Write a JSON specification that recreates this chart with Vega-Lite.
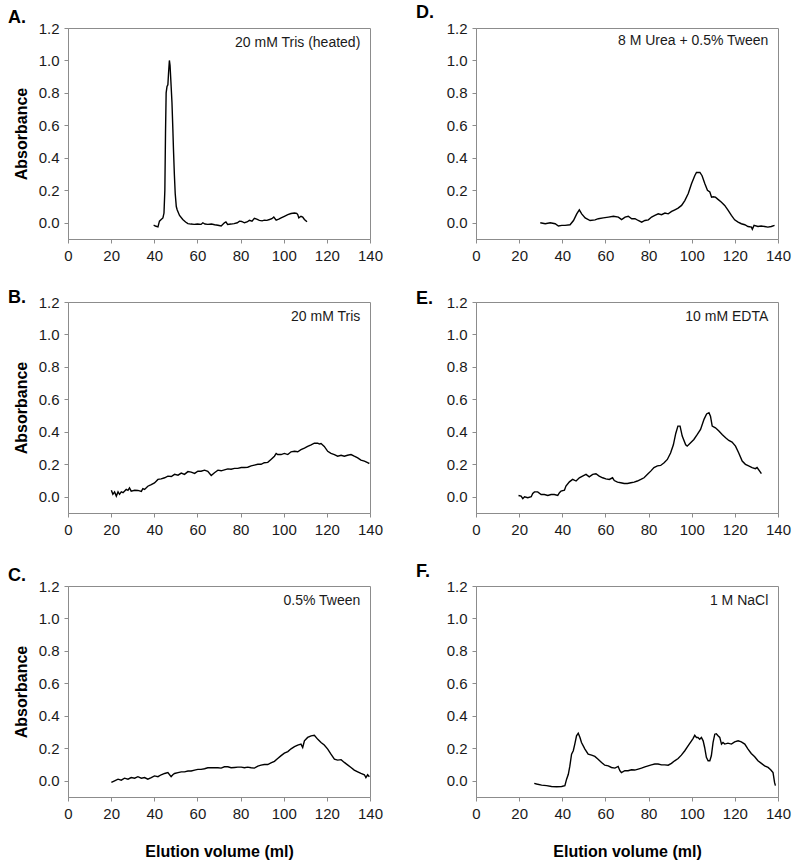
{
  "$schema": "https://vega.github.io/schema/vega-lite/v6.json",
  "background": "white",
  "padding": {"left": 7, "top": 3, "right": 5, "bottom": 0},
  "config": {
    "font": "Liberation Sans",
    "view": {"stroke": "#8c8c8c", "strokeWidth": 1},
    "axis": {
      "grid": false, "domainColor": "#8c8c8c", "tickColor": "#8c8c8c", "labelColor": "#1a1a1a",
      "labelFont": "Liberation Sans", "labelFontSize": 15, "titleFont": "Liberation Sans",
      "titleFontSize": 16, "titleFontWeight": "bold", "titleColor": "#000", "tickSize": 4,
      "labelPadding": 5, "labelFlush": false, "labelOverlap": false
    },
    "axisY": {"titlePadding": 9},
    "axisX": {"titlePadding": 22},
    "title": {"anchor": "start", "frame": "group", "dx": -60, "fontSize": 18, "fontWeight": "bold", "font": "Liberation Sans", "color": "#000"},
    "line": {"color": "#000", "strokeWidth": 1.4},
    "text": {"font": "Liberation Sans", "fontSize": 14, "color": "#1a1a1a"}
  },
  "datasets": {
    "A": [
      {"v":39.7,"a":-0.015},{"v":40.5,"a":-0.02},{"v":41.7,"a":-0.025},{"v":42.4,"a":0.01},{"v":43.2,"a":0.02},{"v":44.0,"a":0.03},{"v":44.5,"a":0.06},{"v":44.9,"a":0.2},{"v":45.2,"a":0.55},{"v":45.5,"a":0.8},{"v":45.9,"a":0.84},{"v":46.3,"a":0.85},{"v":46.6,"a":0.92},{"v":47.0,"a":1.0},{"v":47.3,"a":0.97},{"v":47.7,"a":0.87},{"v":48.2,"a":0.74},{"v":48.6,"a":0.58},{"v":48.9,"a":0.45},{"v":49.3,"a":0.3},{"v":49.7,"a":0.18},{"v":50.2,"a":0.1},{"v":50.6,"a":0.08},{"v":51.7,"a":0.045},{"v":53.2,"a":0.02},{"v":54.5,"a":0.005},{"v":55.6,"a":-0.005},{"v":57,"a":-0.008},{"v":58.5,"a":-0.01},{"v":60,"a":-0.008},{"v":61.7,"a":-0.01},{"v":62.5,"a":0.0},{"v":63.5,"a":-0.008},{"v":64.8,"a":-0.01},{"v":66.5,"a":-0.008},{"v":68,"a":-0.012},{"v":69.5,"a":-0.015},{"v":71,"a":-0.02},{"v":72.5,"a":0.0},{"v":73.2,"a":0.005},{"v":74,"a":-0.01},{"v":75.5,"a":-0.008},{"v":77,"a":-0.005},{"v":78.5,"a":0.0},{"v":79.5,"a":0.01},{"v":80.5,"a":0.008},{"v":81.8,"a":0.0},{"v":83,"a":0.005},{"v":84.1,"a":0.015},{"v":85.3,"a":0.01},{"v":86.4,"a":0.027},{"v":87.5,"a":0.022},{"v":88.7,"a":0.015},{"v":90,"a":0.012},{"v":91,"a":0.016},{"v":92.2,"a":0.015},{"v":93.4,"a":0.02},{"v":94.5,"a":0.025},{"v":95.4,"a":0.035},{"v":96.5,"a":0.016},{"v":97.7,"a":0.022},{"v":98.8,"a":0.03},{"v":100.3,"a":0.04},{"v":101.9,"a":0.05},{"v":103.4,"a":0.057},{"v":105,"a":0.06},{"v":106,"a":0.058},{"v":106.5,"a":0.05},{"v":107,"a":0.03},{"v":108,"a":0.04},{"v":108.8,"a":0.035},{"v":109.6,"a":0.02},{"v":110.8,"a":0.006}
    ],
    "B": [
      {"v":20.1,"a":0.04},{"v":20.8,"a":0.015},{"v":21.6,"a":0.03},{"v":22.4,"a":0.004},{"v":23.2,"a":0.03},{"v":23.9,"a":0.015},{"v":24.7,"a":0.03},{"v":25.5,"a":0.025},{"v":27,"a":0.045},{"v":27.8,"a":0.04},{"v":28.5,"a":0.055},{"v":29.3,"a":0.035},{"v":30.9,"a":0.04},{"v":32.4,"a":0.039},{"v":34,"a":0.033},{"v":34.7,"a":0.05},{"v":35.5,"a":0.045},{"v":37,"a":0.065},{"v":38.6,"a":0.075},{"v":40.1,"a":0.085},{"v":41.7,"a":0.107},{"v":43.2,"a":0.11},{"v":44.8,"a":0.117},{"v":46.3,"a":0.127},{"v":47.9,"a":0.125},{"v":49.4,"a":0.138},{"v":51,"a":0.133},{"v":52.5,"a":0.146},{"v":54,"a":0.138},{"v":55.6,"a":0.155},{"v":57.1,"a":0.152},{"v":58.7,"a":0.144},{"v":60.2,"a":0.157},{"v":61.7,"a":0.157},{"v":63.3,"a":0.164},{"v":64.8,"a":0.157},{"v":66.4,"a":0.131},{"v":67.9,"a":0.148},{"v":69.5,"a":0.164},{"v":71,"a":0.16},{"v":72.5,"a":0.166},{"v":74.1,"a":0.172},{"v":75.6,"a":0.17},{"v":77.2,"a":0.175},{"v":78.7,"a":0.175},{"v":80.3,"a":0.18},{"v":81.8,"a":0.18},{"v":83.3,"a":0.182},{"v":84.9,"a":0.19},{"v":86.4,"a":0.195},{"v":88,"a":0.2},{"v":89.5,"a":0.2},{"v":91,"a":0.21},{"v":92.6,"a":0.212},{"v":94.1,"a":0.23},{"v":95.7,"a":0.25},{"v":96.5,"a":0.267},{"v":97.2,"a":0.26},{"v":98.8,"a":0.26},{"v":100.3,"a":0.267},{"v":101.9,"a":0.26},{"v":103.4,"a":0.277},{"v":105,"a":0.28},{"v":106.5,"a":0.277},{"v":108,"a":0.29},{"v":109.6,"a":0.3},{"v":111.1,"a":0.31},{"v":112.7,"a":0.32},{"v":114.2,"a":0.33},{"v":115.8,"a":0.33},{"v":116.5,"a":0.325},{"v":117.3,"a":0.328},{"v":118.8,"a":0.31},{"v":120.4,"a":0.28},{"v":121.9,"a":0.267},{"v":123.5,"a":0.26},{"v":125,"a":0.25},{"v":126.6,"a":0.256},{"v":128.1,"a":0.25},{"v":129.6,"a":0.256},{"v":131.2,"a":0.26},{"v":132.7,"a":0.25},{"v":134.3,"a":0.24},{"v":135.8,"a":0.226},{"v":137.4,"a":0.22},{"v":138.9,"a":0.21},{"v":139.7,"a":0.205}
    ],
    "C": [
      {"v":20.1,"a":-0.01},{"v":21.6,"a":0.0},{"v":23.2,"a":0.01},{"v":24.7,"a":0.004},{"v":26.2,"a":0.016},{"v":27.8,"a":0.01},{"v":29.3,"a":0.02},{"v":30.9,"a":0.016},{"v":32.4,"a":0.025},{"v":34,"a":0.016},{"v":35.5,"a":0.02},{"v":37,"a":0.01},{"v":38.6,"a":0.02},{"v":40.1,"a":0.03},{"v":41.7,"a":0.025},{"v":43.2,"a":0.037},{"v":44.8,"a":0.045},{"v":46.3,"a":0.05},{"v":47.8,"a":0.025},{"v":48.6,"a":0.037},{"v":49.4,"a":0.045},{"v":51,"a":0.05},{"v":52.5,"a":0.055},{"v":54,"a":0.055},{"v":55.6,"a":0.06},{"v":57.1,"a":0.06},{"v":58.7,"a":0.066},{"v":60.2,"a":0.07},{"v":61.7,"a":0.07},{"v":63.3,"a":0.074},{"v":64.8,"a":0.08},{"v":66.4,"a":0.08},{"v":67.9,"a":0.08},{"v":69.5,"a":0.08},{"v":71,"a":0.078},{"v":72.5,"a":0.086},{"v":74.1,"a":0.086},{"v":75.6,"a":0.08},{"v":77.2,"a":0.082},{"v":78.7,"a":0.084},{"v":80.3,"a":0.084},{"v":81.8,"a":0.08},{"v":83.3,"a":0.084},{"v":84.9,"a":0.08},{"v":86.4,"a":0.078},{"v":88,"a":0.09},{"v":89.5,"a":0.096},{"v":91,"a":0.1},{"v":92.6,"a":0.1},{"v":94.1,"a":0.11},{"v":95.7,"a":0.12},{"v":97.2,"a":0.137},{"v":98.8,"a":0.155},{"v":100.3,"a":0.17},{"v":101.9,"a":0.18},{"v":103.4,"a":0.197},{"v":105,"a":0.21},{"v":106.5,"a":0.22},{"v":108,"a":0.226},{"v":108.8,"a":0.205},{"v":109.6,"a":0.246},{"v":111.1,"a":0.267},{"v":112.7,"a":0.277},{"v":114.2,"a":0.28},{"v":115.8,"a":0.255},{"v":117.3,"a":0.236},{"v":118.8,"a":0.22},{"v":120.4,"a":0.195},{"v":121.9,"a":0.164},{"v":123.5,"a":0.133},{"v":125,"a":0.127},{"v":126.6,"a":0.13},{"v":128.1,"a":0.113},{"v":129.6,"a":0.098},{"v":131.2,"a":0.082},{"v":132.7,"a":0.066},{"v":134.3,"a":0.055},{"v":135.8,"a":0.045},{"v":137.4,"a":0.037},{"v":138.1,"a":0.02},{"v":138.9,"a":0.037},{"v":139.7,"a":0.025}
    ],
    "D": [
      {"v":29.8,"a":0.0},{"v":32.1,"a":-0.006},{"v":34.4,"a":0.0},{"v":36.7,"a":-0.006},{"v":38.2,"a":-0.02},{"v":39.8,"a":-0.016},{"v":41.3,"a":-0.016},{"v":43.6,"a":-0.012},{"v":45.2,"a":0.014},{"v":46.7,"a":0.055},{"v":47.9,"a":0.08},{"v":49,"a":0.055},{"v":50.6,"a":0.03},{"v":52.9,"a":0.014},{"v":55.2,"a":0.018},{"v":56.7,"a":0.025},{"v":59,"a":0.03},{"v":61.4,"a":0.035},{"v":63.7,"a":0.04},{"v":66,"a":0.035},{"v":67.5,"a":0.02},{"v":69.1,"a":0.035},{"v":70.6,"a":0.04},{"v":72.2,"a":0.025},{"v":73.7,"a":0.025},{"v":75.2,"a":0.014},{"v":76.8,"a":0.004},{"v":78.3,"a":0.014},{"v":79.9,"a":0.018},{"v":81.4,"a":0.035},{"v":82.9,"a":0.045},{"v":84.5,"a":0.055},{"v":86,"a":0.05},{"v":87.6,"a":0.06},{"v":89.1,"a":0.055},{"v":90.7,"a":0.07},{"v":92.2,"a":0.08},{"v":93.7,"a":0.09},{"v":95.3,"a":0.107},{"v":96.8,"a":0.137},{"v":98.4,"a":0.18},{"v":99.9,"a":0.24},{"v":101.4,"a":0.29},{"v":102.2,"a":0.31},{"v":103.8,"a":0.31},{"v":104.8,"a":0.29},{"v":106.1,"a":0.24},{"v":107.3,"a":0.2},{"v":108.4,"a":0.19},{"v":109.2,"a":0.158},{"v":109.9,"a":0.16},{"v":111,"a":0.158},{"v":112.2,"a":0.144},{"v":113.8,"a":0.127},{"v":115.3,"a":0.107},{"v":116.9,"a":0.076},{"v":118.4,"a":0.045},{"v":119.9,"a":0.018},{"v":121.5,"a":0.004},{"v":123,"a":-0.006},{"v":124.6,"a":-0.012},{"v":126.1,"a":-0.023},{"v":127.7,"a":-0.027},{"v":128.1,"a":-0.04},{"v":128.9,"a":-0.016},{"v":130.7,"a":-0.023},{"v":132.2,"a":-0.02},{"v":133.8,"a":-0.023},{"v":135.3,"a":-0.027},{"v":136.9,"a":-0.023},{"v":138.4,"a":-0.016}
    ],
    "E": [
      {"v":19.7,"a":0.008},{"v":20.9,"a":0.004},{"v":21.7,"a":-0.012},{"v":22.5,"a":0.0},{"v":24,"a":-0.006},{"v":25.6,"a":0.0},{"v":26.3,"a":0.02},{"v":27.1,"a":0.03},{"v":28.6,"a":0.03},{"v":30.2,"a":0.014},{"v":31.7,"a":0.014},{"v":33.3,"a":0.008},{"v":34.8,"a":0.014},{"v":36.3,"a":0.014},{"v":37.9,"a":0.008},{"v":38.7,"a":0.025},{"v":39.4,"a":0.035},{"v":41,"a":0.04},{"v":41.7,"a":0.066},{"v":43.3,"a":0.092},{"v":44.8,"a":0.107},{"v":46.4,"a":0.097},{"v":47.9,"a":0.117},{"v":49.4,"a":0.127},{"v":51,"a":0.138},{"v":52.5,"a":0.123},{"v":54.1,"a":0.138},{"v":55.6,"a":0.142},{"v":57.1,"a":0.127},{"v":58.7,"a":0.117},{"v":60.2,"a":0.11},{"v":61.8,"a":0.107},{"v":63.3,"a":0.117},{"v":64.1,"a":0.1},{"v":65.6,"a":0.09},{"v":67.1,"a":0.086},{"v":68.7,"a":0.082},{"v":70.2,"a":0.082},{"v":71.8,"a":0.086},{"v":73.3,"a":0.09},{"v":74.8,"a":0.097},{"v":76.4,"a":0.107},{"v":77.9,"a":0.117},{"v":79.5,"a":0.138},{"v":81,"a":0.158},{"v":82.5,"a":0.18},{"v":84.1,"a":0.19},{"v":85.6,"a":0.193},{"v":87.2,"a":0.21},{"v":88.7,"a":0.23},{"v":90.2,"a":0.27},{"v":91.5,"a":0.32},{"v":92.6,"a":0.39},{"v":93.6,"a":0.435},{"v":94.6,"a":0.435},{"v":95.6,"a":0.374},{"v":97.2,"a":0.32},{"v":97.9,"a":0.312},{"v":99.5,"a":0.333},{"v":101,"a":0.353},{"v":102.6,"a":0.384},{"v":104.1,"a":0.415},{"v":105.7,"a":0.477},{"v":106.9,"a":0.51},{"v":108,"a":0.518},{"v":108.7,"a":0.497},{"v":109.5,"a":0.436},{"v":111,"a":0.425},{"v":112.6,"a":0.405},{"v":114.1,"a":0.384},{"v":115.7,"a":0.364},{"v":117.2,"a":0.347},{"v":118.7,"a":0.337},{"v":120.3,"a":0.312},{"v":121.8,"a":0.27},{"v":123.4,"a":0.22},{"v":124.9,"a":0.2},{"v":126.4,"a":0.19},{"v":128,"a":0.18},{"v":129.5,"a":0.173},{"v":130.3,"a":0.18},{"v":131.5,"a":0.158},{"v":132.3,"a":0.142}
    ],
    "F": [
      {"v":27,"a":-0.016},{"v":28.1,"a":-0.02},{"v":30.4,"a":-0.027},{"v":32.7,"a":-0.03},{"v":35,"a":-0.035},{"v":37.4,"a":-0.037},{"v":39.7,"a":-0.035},{"v":41.2,"a":-0.03},{"v":42,"a":0.01},{"v":42.8,"a":0.04},{"v":43.5,"a":0.09},{"v":44.3,"a":0.164},{"v":45.1,"a":0.185},{"v":45.8,"a":0.226},{"v":46.6,"a":0.277},{"v":47.4,"a":0.293},{"v":48.2,"a":0.267},{"v":48.9,"a":0.236},{"v":50.5,"a":0.195},{"v":52,"a":0.164},{"v":53.6,"a":0.158},{"v":55.1,"a":0.15},{"v":56.6,"a":0.133},{"v":58.2,"a":0.113},{"v":59.7,"a":0.096},{"v":61.3,"a":0.092},{"v":62.8,"a":0.082},{"v":64.4,"a":0.078},{"v":65.9,"a":0.088},{"v":66.7,"a":0.062},{"v":67.4,"a":0.05},{"v":69,"a":0.062},{"v":70.5,"a":0.062},{"v":72.1,"a":0.068},{"v":73.6,"a":0.066},{"v":75.2,"a":0.072},{"v":76.7,"a":0.078},{"v":78.3,"a":0.086},{"v":79.8,"a":0.092},{"v":81.3,"a":0.098},{"v":82.9,"a":0.103},{"v":84.4,"a":0.103},{"v":86,"a":0.098},{"v":87.5,"a":0.098},{"v":89.1,"a":0.096},{"v":90.6,"a":0.107},{"v":92.1,"a":0.123},{"v":93.7,"a":0.137},{"v":95.2,"a":0.158},{"v":96.8,"a":0.185},{"v":98.3,"a":0.215},{"v":99.9,"a":0.246},{"v":100.6,"a":0.26},{"v":101.4,"a":0.28},{"v":102.2,"a":0.267},{"v":102.9,"a":0.267},{"v":103.7,"a":0.256},{"v":104.5,"a":0.267},{"v":105.3,"a":0.246},{"v":106,"a":0.205},{"v":106.8,"a":0.144},{"v":107.6,"a":0.123},{"v":108.4,"a":0.123},{"v":109.1,"a":0.154},{"v":109.9,"a":0.236},{"v":110.7,"a":0.287},{"v":111.4,"a":0.29},{"v":112.2,"a":0.277},{"v":113,"a":0.267},{"v":113.8,"a":0.226},{"v":114.5,"a":0.236},{"v":115.3,"a":0.226},{"v":116.8,"a":0.232},{"v":118.4,"a":0.226},{"v":119.9,"a":0.24},{"v":121.5,"a":0.246},{"v":123,"a":0.24},{"v":124.6,"a":0.226},{"v":126.1,"a":0.195},{"v":127.6,"a":0.168},{"v":129.2,"a":0.148},{"v":130.7,"a":0.123},{"v":132.3,"a":0.107},{"v":133.8,"a":0.092},{"v":135.4,"a":0.082},{"v":136.6,"a":0.068},{"v":137.7,"a":0.05},{"v":138.4,"a":-0.01},{"v":138.8,"a":-0.03}
    ]
  },
  "vconcat": [
    {"hconcat": [
      {"title": {"text": "A.", "offset": -6}, "width": 302, "height": 211, "layer": [
        {"data": {"name": "A"}, "mark": "line", "encoding": {
          "x": {"field": "v", "type": "quantitative", "scale": {"domain": [0, 140], "nice": false}, "axis": {"values": [0,20,40,60,80,100,120,140], "title": null}},
          "y": {"field": "a", "type": "quantitative", "scale": {"domain": [-0.1, 1.2], "nice": false, "zero": false}, "axis": {"values": [0,0.2,0.4,0.6,0.8,1.0,1.2], "format": ".1f", "title": "Absorbance"}}}},
        {"data": {"values": [{"label": "20 mM Tris (heated)"}]}, "mark": {"type": "text", "align": "right", "baseline": "middle"}, "encoding": {
          "x": {"datum": 135.5, "axis": {"values": [0,20,40,60,80,100,120,140], "title": null}},
          "y": {"datum": 1.11, "axis": {"values": [0,0.2,0.4,0.6,0.8,1.0,1.2], "format": ".1f", "title": "Absorbance"}},
          "text": {"field": "label"}}}
      ]},
      {"title": {"text": "D.", "offset": -1}, "width": 302, "height": 211, "layer": [
        {"data": {"name": "D"}, "mark": "line", "encoding": {
          "x": {"field": "v", "type": "quantitative", "scale": {"domain": [0, 140], "nice": false}, "axis": {"values": [0,20,40,60,80,100,120,140], "title": null}},
          "y": {"field": "a", "type": "quantitative", "scale": {"domain": [-0.1, 1.2], "nice": false, "zero": false}, "axis": {"values": [0,0.2,0.4,0.6,0.8,1.0,1.2], "format": ".1f", "title": null}}}},
        {"data": {"values": [{"label": "8 M Urea + 0.5% Tween"}]}, "mark": {"type": "text", "align": "right", "baseline": "middle"}, "encoding": {
          "x": {"datum": 135.5, "axis": {"values": [0,20,40,60,80,100,120,140], "title": null}},
          "y": {"datum": 1.12, "axis": {"values": [0,0.2,0.4,0.6,0.8,1.0,1.2], "format": ".1f", "title": null}},
          "text": {"field": "label"}}}
      ]}
    ], "spacing": 31},
    {"hconcat": [
      {"title": {"text": "B.", "offset": -12}, "width": 302, "height": 211, "layer": [
        {"data": {"name": "B"}, "mark": "line", "encoding": {
          "x": {"field": "v", "type": "quantitative", "scale": {"domain": [0, 140], "nice": false}, "axis": {"values": [0,20,40,60,80,100,120,140], "title": null}},
          "y": {"field": "a", "type": "quantitative", "scale": {"domain": [-0.1, 1.2], "nice": false, "zero": false}, "axis": {"values": [0,0.2,0.4,0.6,0.8,1.0,1.2], "format": ".1f", "title": "Absorbance"}}}},
        {"data": {"values": [{"label": "20 mM Tris"}]}, "mark": {"type": "text", "align": "right", "baseline": "middle"}, "encoding": {
          "x": {"datum": 135.5, "axis": {"values": [0,20,40,60,80,100,120,140], "title": null}},
          "y": {"datum": 1.11, "axis": {"values": [0,0.2,0.4,0.6,0.8,1.0,1.2], "format": ".1f", "title": "Absorbance"}},
          "text": {"field": "label"}}}
      ]},
      {"title": {"text": "E.", "offset": -13}, "width": 302, "height": 211, "layer": [
        {"data": {"name": "E"}, "mark": "line", "encoding": {
          "x": {"field": "v", "type": "quantitative", "scale": {"domain": [0, 140], "nice": false}, "axis": {"values": [0,20,40,60,80,100,120,140], "title": null}},
          "y": {"field": "a", "type": "quantitative", "scale": {"domain": [-0.1, 1.2], "nice": false, "zero": false}, "axis": {"values": [0,0.2,0.4,0.6,0.8,1.0,1.2], "format": ".1f", "title": null}}}},
        {"data": {"values": [{"label": "10 mM EDTA"}]}, "mark": {"type": "text", "align": "right", "baseline": "middle"}, "encoding": {
          "x": {"datum": 135.5, "axis": {"values": [0,20,40,60,80,100,120,140], "title": null}},
          "y": {"datum": 1.11, "axis": {"values": [0,0.2,0.4,0.6,0.8,1.0,1.2], "format": ".1f", "title": null}},
          "text": {"field": "label"}}}
      ]}
    ], "spacing": 31},
    {"hconcat": [
      {"title": {"text": "C.", "offset": -6}, "width": 302, "height": 211, "layer": [
        {"data": {"name": "C"}, "mark": "line", "encoding": {
          "x": {"field": "v", "type": "quantitative", "scale": {"domain": [0, 140], "nice": false}, "axis": {"values": [0,20,40,60,80,100,120,140], "title": "Elution volume (ml)"}},
          "y": {"field": "a", "type": "quantitative", "scale": {"domain": [-0.1, 1.2], "nice": false, "zero": false}, "axis": {"values": [0,0.2,0.4,0.6,0.8,1.0,1.2], "format": ".1f", "title": "Absorbance"}}}},
        {"data": {"values": [{"label": "0.5% Tween"}]}, "mark": {"type": "text", "align": "right", "baseline": "middle"}, "encoding": {
          "x": {"datum": 135.5, "axis": {"values": [0,20,40,60,80,100,120,140], "title": "Elution volume (ml)"}},
          "y": {"datum": 1.11, "axis": {"values": [0,0.2,0.4,0.6,0.8,1.0,1.2], "format": ".1f", "title": "Absorbance"}},
          "text": {"field": "label"}}}
      ]},
      {"title": {"text": "F.", "offset": -2}, "width": 302, "height": 211, "layer": [
        {"data": {"name": "F"}, "mark": "line", "encoding": {
          "x": {"field": "v", "type": "quantitative", "scale": {"domain": [0, 140], "nice": false}, "axis": {"values": [0,20,40,60,80,100,120,140], "title": "Elution volume (ml)"}},
          "y": {"field": "a", "type": "quantitative", "scale": {"domain": [-0.1, 1.2], "nice": false, "zero": false}, "axis": {"values": [0,0.2,0.4,0.6,0.8,1.0,1.2], "format": ".1f", "title": null}}}},
        {"data": {"values": [{"label": "1 M NaCl"}]}, "mark": {"type": "text", "align": "right", "baseline": "middle"}, "encoding": {
          "x": {"datum": 135.5, "axis": {"values": [0,20,40,60,80,100,120,140], "title": "Elution volume (ml)"}},
          "y": {"datum": 1.11, "axis": {"values": [0,0.2,0.4,0.6,0.8,1.0,1.2], "format": ".1f", "title": null}},
          "text": {"field": "label"}}}
      ]}
    ], "spacing": 31}
  ],
  "spacing": 24
}
